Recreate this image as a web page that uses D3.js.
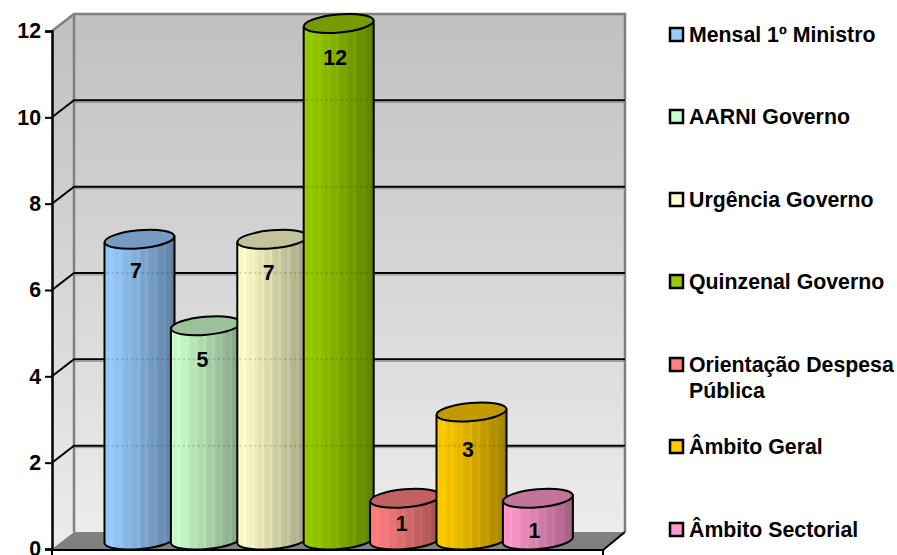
<!DOCTYPE html>
<html>
<head>
<meta charset="utf-8">
<script src="https://cdnjs.cloudflare.com/ajax/libs/d3/7.8.5/d3.min.js"></script>
<style>
html, body { margin: 0; padding: 0; background: #fff; overflow: hidden; }
text { font-family: "Liberation Sans", Arial, sans-serif; font-weight: bold; fill: #000; }
</style>
</head>
<body>
<svg id="chart" width="897" height="555"></svg>
<script>
// values
const categories = ["Mensal 1º Ministro", "AARNI Governo", "Urgência Governo", "Quinzenal Governo",
    "Orientação Despesa Pública", "Âmbito Geral", "Âmbito Sectorial"];
const values = [7, 5, 7, 12, 1, 3, 1];
const barColors = ["#99ccff", "#ccffcc", "#ffffcc", "#99cc00", "#ff8080", "#ffcc00", "#ff99cc"];
const yTicks = [0, 2, 4, 6, 8, 10, 12];

const svg = d3.select("#chart");
const defs = svg.append("defs");

const depthX = 22, depthY = 17;
const plotLeft = 52, plotRight = 603, plotBottom = 549, plotTop = 31;
const fontSize = "21.3px";

const y = d3.scaleLinear().domain([0, 12]).range([plotBottom, plotTop]);
const x = d3.scaleBand().domain(d3.range(categories.length)).range([106.3, 571.1]);

// walls
const wallGrad = defs.append("linearGradient").attr("id", "wall").attr("x1", 0).attr("y1", 0).attr("x2", 0).attr("y2", 1);
wallGrad.append("stop").attr("offset", 0).attr("stop-color", "#c0c0c0");
wallGrad.append("stop").attr("offset", 1).attr("stop-color", "#ececec");

const walls = svg.append("g");
walls.append("path")
    .attr("d", `M${plotLeft},${y(12)}L${plotLeft + depthX},${y(12) - depthY}V${y(0) - depthY}L${plotLeft},${y(0)}Z`)
    .attr("fill", "url(#wall)");
walls.append("rect")
    .attr("x", plotLeft + depthX).attr("y", y(12) - depthY)
    .attr("width", plotRight - plotLeft).attr("height", y(0) - y(12))
    .attr("fill", "url(#wall)");
// floor
walls.append("path")
    .attr("d", `M${plotLeft},${y(0)}L${plotLeft + depthX},${y(0) - depthY}H${plotRight + depthX}L${plotRight},${y(0)}Z`)
    .attr("fill", "#808080");
// grey frame of the back wall
walls.append("path")
    .attr("d", `M${plotLeft},${y(12)}L${plotLeft + depthX},${y(12) - depthY}H${plotRight + depthX}V${y(0) - depthY}M${plotLeft + depthX},${y(12) - depthY}V${y(0) - depthY}`)
    .attr("fill", "none").attr("stroke", "#808080").attr("stroke-width", 2.5);

// gridlines
yTicks.filter(d => d > 0 && d < 12).forEach(d => {
    walls.append("path")
        .attr("d", `M${plotLeft + depthX},${y(d) - depthY + 2}H${plotRight + depthX}`)
        .attr("stroke", "#909090").attr("stroke-width", 1);
    walls.append("path")
        .attr("d", `M${plotLeft},${y(d)}L${plotLeft + depthX},${y(d) - depthY}H${plotRight + depthX}`)
        .attr("fill", "none").attr("stroke", "#000").attr("stroke-width", 2);
});

// stripes in the cylinder shading
const shadeBands = [1, .97, 1, .96, .94, .96, .92, .89, .91, .87, .85, .88, .82, .8, .83, .77, .75, .78, .72, .7, .72, .67, .65, .62];

barColors.forEach((c, i) => {
    const g = defs.append("linearGradient").attr("id", "bar" + i);
    const base = d3.rgb(c);
    shadeBands.forEach((s, j) => {
        const col = d3.rgb(base.r * s, base.g * s, base.b * s);
        g.append("stop").attr("offset", j / shadeBands.length).attr("stop-color", col);
        g.append("stop").attr("offset", (j + 1) / shadeBands.length).attr("stop-color", col);
    });
});

// cylinders, later ones overlap earlier ones
const rx = 35, ry = 9, tilt = -5;
const rise = rx * Math.tan(-tilt * Math.PI / 180);
const baseLift = 9, topLift = 7.5;
const labelNudge = [32, 34, 34, 34, 26, 38, 33];

const bars = svg.append("g").selectAll("g").data(values).enter().append("g");

bars.append("path")
    .attr("d", (d, i) => {
        const cx = x(i) + x.bandwidth() / 2;
        const yb = y(0) - baseLift, yt = y(d) - topLift;
        return `M${cx - rx},${yt + rise}L${cx - rx},${yb + rise}` +
            `A${rx},${ry} ${tilt} 0 0 ${cx + rx},${yb - rise}L${cx + rx},${yt - rise}Z`;
    })
    .attr("fill", (d, i) => `url(#bar${i})`)
    .attr("stroke", "#000").attr("stroke-width", 2).attr("stroke-linejoin", "round");

// gridlines showing faintly through the bars
bars.each(function (d, i) {
    const cx = x(i) + x.bandwidth() / 2;
    yTicks.filter(t => t > 0 && t < 12 && y(t) - depthY > y(d) - topLift + ry).forEach(t => {
        d3.select(this).append("line")
            .attr("x1", cx - rx + 2).attr("x2", cx + rx - 2)
            .attr("y1", y(t) - depthY).attr("y2", y(t) - depthY)
            .attr("stroke", "#000").attr("stroke-opacity", 0.15)
            .attr("stroke-width", 2).attr("stroke-dasharray", "2 3");
    });
});

bars.append("ellipse")
    .attr("transform", (d, i) => `translate(${x(i) + x.bandwidth() / 2},${y(d) - topLift}) rotate(${tilt})`)
    .attr("rx", rx).attr("ry", ry)
    .attr("fill", (d, i) => {
        const b = d3.rgb(barColors[i]);
        return d3.rgb(b.r * .76, b.g * .76, b.b * .76);
    })
    .attr("stroke", "#000").attr("stroke-width", 2);

bars.append("text")
    .attr("x", (d, i) => x(i) + x.bandwidth() / 2 - 3.5)
    .attr("y", (d, i) => y(d) - topLift + labelNudge[i] + 7)
    .attr("text-anchor", "middle")
    .style("font-size", fontSize)
    .text(d => d);

// axes
const yAxis = d3.axisLeft(y).tickValues(yTicks).tickSize(7).tickPadding(4);
const yG = svg.append("g").attr("transform", `translate(${plotLeft},0)`).call(yAxis);
yG.selectAll("line").attr("stroke", "#000").attr("stroke-width", 2);
yG.select(".domain").attr("stroke", "#000").attr("stroke-width", 2.5);
yG.selectAll("text").style("font-size", fontSize).attr("fill", null);
yG.attr("font-family", null).attr("font-size", null);

// front edge of the floor
svg.append("path")
    .attr("d", `M${plotLeft},${y(0) + 1}H${plotRight}L${plotRight + depthX},${y(0) - depthY}M${plotRight},${y(0)}v7M${plotLeft},${y(0)}v7`)
    .attr("fill", "none").attr("stroke", "#000").attr("stroke-width", 2);

// legend
const legendY = [35, 117, 200, 282, 365, 447, 530];
const legendWrap = { 4: ["Orientação Despesa", "Pública"] };
const legend = svg.append("g").selectAll("g").data(categories).enter().append("g")
    .attr("transform", (d, i) => `translate(669,${legendY[i]})`);
legend.append("rect")
    .attr("x", 1).attr("y", -7).attr("width", 13).attr("height", 13)
    .attr("fill", (d, i) => barColors[i])
    .attr("stroke", "#000").attr("stroke-width", 2.5);
legend.append("text")
    .attr("x", 20).attr("y", 7)
    .style("font-size", fontSize)
    .selectAll("tspan")
    .data((d, i) => legendWrap[i] || [d]).enter().append("tspan")
    .attr("x", 20)
    .attr("dy", (d, j) => j ? 26 : 0)
    .text(d => d);
</script>
</body>
</html>
